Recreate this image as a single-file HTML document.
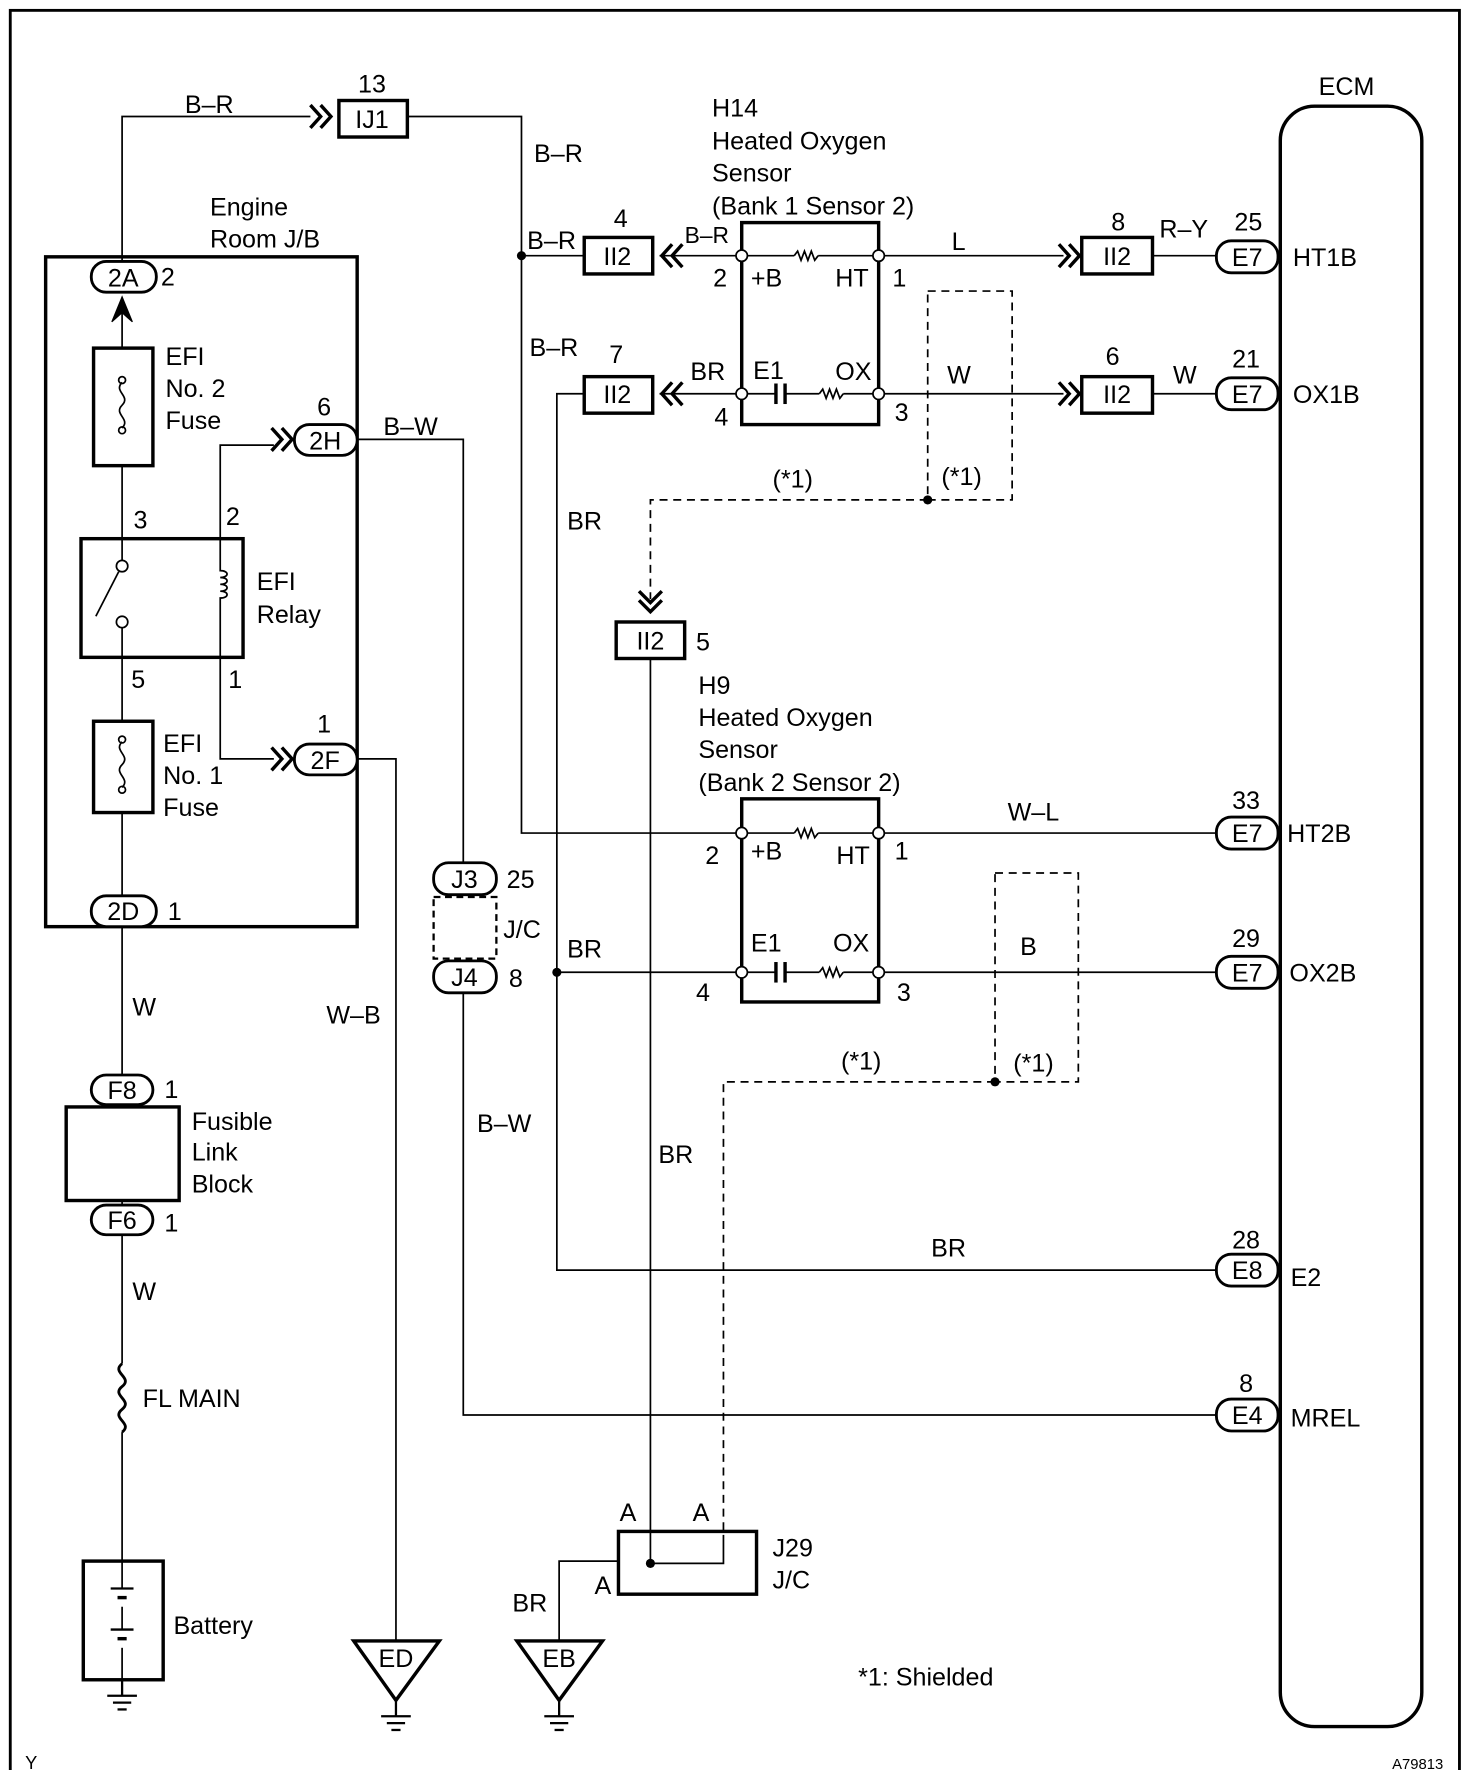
<!DOCTYPE html>
<html><head><meta charset="utf-8"><style>
html,body{margin:0;padding:0;background:#fff}
svg{display:block}
text{font-family:"Liberation Sans",sans-serif;font-size:22px;fill:#000}
</style></head><body>
<svg width="1472" height="1770" viewBox="0 0 1290 1551" xmlns="http://www.w3.org/2000/svg">
<defs>
<g id="gnd"><line x1="0" y1="0" x2="0" y2="14" stroke="#000" stroke-width="2"/><line x1="-13" y1="14" x2="13" y2="14" stroke="#000" stroke-width="2"/><line x1="-8" y1="20" x2="8" y2="20" stroke="#000" stroke-width="2"/><line x1="-4" y1="26" x2="4" y2="26" stroke="#000" stroke-width="2"/></g>
<g id="rarr"><polyline points="0,-10 9,0 0,10" fill="none" stroke="#000" stroke-width="3"/><polyline points="9,-10 18,0 9,10" fill="none" stroke="#000" stroke-width="3"/></g>
<g id="larr"><polyline points="0,-10 -9,0 0,10" fill="none" stroke="#000" stroke-width="3"/><polyline points="-9,-10 -18,0 -9,10" fill="none" stroke="#000" stroke-width="3"/></g>
<g id="res"><polyline points="0,0 3,-4 6,4 9,-4 12,4 15,-4 18,4 21,0" fill="none" stroke="#000" stroke-width="1.5"/></g>
</defs>
<rect x="9" y="9" width="1270" height="1548" fill="none" stroke="#000" stroke-width="2.5"/>
<g stroke="#000" stroke-width="1.5" fill="none">
<polyline points="107,228 107,102 272,102"/>
<polyline points="357,102 457,102 457,730 650,730"/>
<line x1="457" y1="224" x2="512" y2="224"/>
<line x1="578" y1="224" x2="650" y2="224"/>
<line x1="770" y1="224" x2="932" y2="224"/>
<line x1="1010" y1="224" x2="1066" y2="224"/>
<line x1="578" y1="345" x2="650" y2="345"/>
<line x1="770" y1="345" x2="932" y2="345"/>
<line x1="1010" y1="345" x2="1066" y2="345"/>
<polyline points="512,345 488,345 488,1113 1066,1113"/>
<line x1="770" y1="730" x2="1066" y2="730"/>
<line x1="488" y1="852" x2="650" y2="852"/>
<line x1="770" y1="852" x2="1066" y2="852"/>
<line x1="570" y1="577" x2="570" y2="1370"/>
<polyline points="634,1345 634,1370 570,1370"/>
<polyline points="542,1368 490,1368 490,1438"/>
<polyline points="313,385 406,385 406,756"/>
<polyline points="406,870 406,1240 1066,1240"/>
<polyline points="313,665 347,665 347,1438"/>
<line x1="107" y1="270" x2="107" y2="305"/>
<line x1="107" y1="408" x2="107" y2="472"/>
<line x1="107" y1="576" x2="107" y2="632"/>
<line x1="107" y1="712" x2="107" y2="790"/>
<polyline points="193,472 193,390 240,390"/>
<polyline points="193,576 193,665 240,665"/>
<line x1="107" y1="812" x2="107" y2="942"/>
<line x1="107" y1="1082" x2="107" y2="1195"/>
<line x1="107" y1="1255" x2="107" y2="1368"/>
<line x1="107" y1="968" x2="107" y2="1056"/>
<g stroke-dasharray="7,5">
<rect x="813" y="255" width="74" height="183"/>
<polyline points="813,438 570,438 570,525"/>
<rect x="872" y="765" width="73" height="183"/>
<polyline points="872,948 634,948 634,1345"/>
</g>
</g>
<g fill="#000">
<circle cx="457" cy="224" r="4"/><circle cx="813" cy="438" r="4"/><circle cx="872" cy="948" r="4"/><circle cx="488" cy="852" r="4"/><circle cx="570" cy="1370" r="4"/>
</g>
<use href="#rarr" x="272" y="102"/>
<use href="#larr" x="598" y="224"/>
<use href="#larr" x="598" y="345"/>
<use href="#rarr" x="928" y="224"/>
<use href="#rarr" x="928" y="345"/>
<use href="#rarr" x="238" y="385"/>
<use href="#rarr" x="238" y="665"/>
<polyline points="560,518 570,528 580,518" fill="none" stroke="#000" stroke-width="3"/>
<polyline points="560,526 570,536 580,526" fill="none" stroke="#000" stroke-width="3"/>
<path d="M98,282 L107,260 L116,282 L107,274Z" fill="#000" stroke="#000" stroke-width="1"/>
<path d="M98,786 L107,808 L116,786 L107,794Z" fill="#000" stroke="#000" stroke-width="1"/>
<g fill="#fff" stroke="#000" stroke-width="3">
<rect x="297" y="88" width="60" height="32"/>
<rect x="512" y="208" width="60" height="32"/>
<rect x="512" y="330" width="60" height="32"/>
<rect x="948" y="208" width="62" height="32"/>
<rect x="948" y="330" width="62" height="32"/>
<rect x="540" y="545" width="60" height="32"/>
<rect x="650" y="195" width="120" height="177" fill="none"/>
<rect x="650" y="700" width="120" height="178" fill="none"/>
<rect x="40" y="225" width="273" height="587" fill="none"/>
<rect x="82" y="305" width="52" height="103"/>
<rect x="82" y="632" width="52" height="80"/>
<rect x="71" y="472" width="142" height="104"/>
<rect x="58" y="970" width="99" height="82"/>
<rect x="73" y="1368" width="70" height="104"/>
<rect x="542" y="1342" width="121" height="55" fill="none"/>
<rect x="1122" y="93" width="124" height="1420" rx="30" fill="none"/>
<rect x="380" y="786" width="55" height="54" stroke-dasharray="6,4" stroke-width="2" fill="none"/>
</g>
<g fill="#fff" stroke="#000" stroke-width="2.5">
<rect x="80" y="229" width="57" height="27" rx="13"/>
<rect x="80" y="785" width="57" height="27" rx="13"/>
<rect x="258" y="372" width="55" height="27" rx="13"/>
<rect x="258" y="652" width="55" height="27" rx="13"/>
<rect x="80" y="942" width="54" height="26" rx="13"/>
<rect x="80" y="1056" width="54" height="26" rx="13"/>
<rect x="380" y="756" width="55" height="28" rx="13"/>
<rect x="380" y="842" width="55" height="28" rx="13"/>
<rect x="1066" y="211" width="54" height="28" rx="13"/>
<rect x="1066" y="331" width="54" height="28" rx="13"/>
<rect x="1066" y="716" width="54" height="28" rx="13"/>
<rect x="1066" y="838" width="54" height="28" rx="13"/>
<rect x="1066" y="1099" width="54" height="28" rx="13"/>
<rect x="1066" y="1226" width="54" height="28" rx="13"/>
</g>
<g fill="#fff" stroke="#000" stroke-width="1.5">
<line x1="650" y1="224" x2="696" y2="224"/><line x1="717" y1="224" x2="770" y2="224"/>
<line x1="650" y1="345" x2="680" y2="345"/><line x1="688" y1="345" x2="718" y2="345"/><line x1="739" y1="345" x2="770" y2="345"/>
<line x1="650" y1="730" x2="696" y2="730"/><line x1="717" y1="730" x2="770" y2="730"/>
<line x1="650" y1="852" x2="680" y2="852"/><line x1="688" y1="852" x2="718" y2="852"/><line x1="739" y1="852" x2="770" y2="852"/>
</g>
<use href="#res" x="696" y="224"/><use href="#res" x="718" y="345"/><use href="#res" x="696" y="730"/><use href="#res" x="718" y="852"/>
<g stroke="#000" stroke-width="3"><line x1="680" y1="336" x2="680" y2="354"/><line x1="688" y1="336" x2="688" y2="354"/><line x1="680" y1="843" x2="680" y2="861"/><line x1="688" y1="843" x2="688" y2="861"/></g>
<g fill="#fff" stroke="#000" stroke-width="1.5">
<circle cx="650" cy="224" r="5"/><circle cx="770" cy="224" r="5"/><circle cx="650" cy="345" r="5"/><circle cx="770" cy="345" r="5"/>
<circle cx="650" cy="730" r="5"/><circle cx="770" cy="730" r="5"/><circle cx="650" cy="852" r="5"/><circle cx="770" cy="852" r="5"/>
<circle cx="107" cy="496" r="5"/><circle cx="107" cy="545" r="5"/>
</g>
<g fill="none" stroke="#000" stroke-width="1.5">
<line x1="107" y1="472" x2="107" y2="491"/><line x1="107" y1="550" x2="107" y2="576"/>
<line x1="84" y1="540" x2="104" y2="501"/>
<path d="M193,472 V500 c8,0 8,6 0,6 c8,0 8,6 0,6 c8,0 8,6 0,6 c8,0 8,6 0,6 V576"/>
<path d="M107,335 c-8,8 8,12 0,20 c-8,8 8,12 0,20"/>
<circle cx="107" cy="333" r="3"/><circle cx="107" cy="377" r="3"/>
<path d="M107,650 c-8,8 8,12 0,20 c-8,8 8,12 0,20"/>
<circle cx="107" cy="648" r="3"/><circle cx="107" cy="692" r="3"/>
<path d="M107,1195 c-10,8 10,12 0,20 c-10,8 10,12 0,20 c-10,8 10,12 0,20" stroke-width="2.5"/>
<line x1="107" y1="1368" x2="107" y2="1392"/>
<line x1="107" y1="1408" x2="107" y2="1428"/>
<line x1="107" y1="1444" x2="107" y2="1472"/>
</g>
<g stroke="#000" stroke-width="2"><line x1="97" y1="1392" x2="117" y2="1392"/><line x1="103" y1="1400" x2="111" y2="1400" stroke-width="3"/><line x1="97" y1="1428" x2="117" y2="1428"/><line x1="103" y1="1436" x2="111" y2="1436" stroke-width="3"/></g>
<path d="M310,1438 H385 L347,1490Z" fill="#fff" stroke="#000" stroke-width="3"/>
<path d="M453,1438 H528 L490,1490Z" fill="#fff" stroke="#000" stroke-width="3"/>
<use href="#gnd" x="347" y="1490"/><use href="#gnd" x="490" y="1490"/><use href="#gnd" x="107" y="1472"/>
<g text-anchor="middle">
<text x="326" y="112">IJ1</text><text x="541" y="232">II2</text><text x="541" y="353">II2</text>
<text x="979" y="232">II2</text><text x="979" y="353">II2</text><text x="570" y="569">II2</text>
<text x="108" y="251">2A</text><text x="108" y="806">2D</text><text x="285" y="394">2H</text><text x="285" y="674">2F</text>
<text x="107" y="963">F8</text><text x="107" y="1077">F6</text><text x="407" y="778">J3</text><text x="407" y="864">J4</text>
<text x="1093" y="233">E7</text><text x="1093" y="353">E7</text><text x="1093" y="738">E7</text><text x="1093" y="860">E7</text><text x="1093" y="1121">E8</text><text x="1093" y="1248">E4</text>
<text x="347" y="1461">ED</text><text x="490" y="1461">EB</text>
<text x="1180" y="83">ECM</text>
<text x="326" y="81">13</text><text x="544" y="199">4</text><text x="540" y="318">7</text><text x="980" y="202">8</text><text x="975" y="320">6</text>
<text x="1094" y="202">25</text><text x="1092" y="322">21</text><text x="1092" y="709">33</text><text x="1092" y="830">29</text><text x="1092" y="1094">28</text><text x="1092" y="1220">8</text>
<text x="284" y="364">6</text><text x="284" y="642">1</text>
</g>
<text x="162" y="99">B–R</text><text x="468" y="142">B–R</text><text x="462" y="218">B–R</text><text x="600" y="213" style="font-size:20px">B–R</text>
<text x="464" y="312">B–R</text><text x="605" y="333">BR</text><text x="497" y="464">BR</text>
<text x="834" y="219">L</text><text x="1016" y="208">R–Y</text><text x="1133" y="233">HT1B</text>
<text x="830" y="336">W</text><text x="1028" y="336">W</text><text x="1133" y="353">OX1B</text>
<text x="624" y="102">H14</text><text x="624" y="131">Heated Oxygen</text><text x="624" y="159">Sensor</text><text x="624" y="188">(Bank 1 Sensor 2)</text>
<text x="625" y="251">2</text><text x="658" y="251">+B</text><text x="732" y="251">HT</text><text x="782" y="251">1</text>
<text x="660" y="332">E1</text><text x="732" y="333">OX</text><text x="626" y="373">4</text><text x="784" y="369">3</text>
<text x="677" y="427">(*1)</text><text x="825" y="425">(*1)</text><text x="610" y="570">5</text>
<text x="612" y="608">H9</text><text x="612" y="636">Heated Oxygen</text><text x="612" y="664">Sensor</text><text x="612" y="693">(Bank 2 Sensor 2)</text>
<text x="883" y="719">W–L</text><text x="1128" y="738">HT2B</text>
<text x="618" y="757">2</text><text x="658" y="753">+B</text><text x="733" y="757">HT</text><text x="784" y="753">1</text>
<text x="658" y="834">E1</text><text x="730" y="834">OX</text><text x="497" y="839">BR</text><text x="894" y="837">B</text><text x="1130" y="860">OX2B</text>
<text x="610" y="877">4</text><text x="786" y="877">3</text>
<text x="737" y="937">(*1)</text><text x="888" y="939">(*1)</text>
<text x="577" y="1019">BR</text><text x="816" y="1101">BR</text><text x="1131" y="1127">E2</text><text x="1131" y="1250">MREL</text>
<text x="543" y="1333">A</text><text x="607" y="1333">A</text><text x="521" y="1397">A</text><text x="677" y="1364">J29</text><text x="677" y="1392">J/C</text><text x="449" y="1412">BR</text>
<text x="752" y="1477">*1: Shielded</text>
<text x="184" y="189">Engine</text><text x="184" y="217">Room J/B</text><text x="141" y="250">2</text>
<text x="145" y="320">EFI</text><text x="145" y="348">No. 2</text><text x="145" y="376">Fuse</text>
<text x="117" y="463">3</text><text x="198" y="460">2</text><text x="225" y="517">EFI</text><text x="225" y="546">Relay</text>
<text x="115" y="603">5</text><text x="200" y="603">1</text>
<text x="143" y="659">EFI</text><text x="143" y="687">No. 1</text><text x="143" y="715">Fuse</text><text x="147" y="806">1</text>
<text x="336" y="381">B–W</text><text x="444" y="778">25</text><text x="441" y="822">J/C</text><text x="446" y="865">8</text>
<text x="116" y="890">W</text><text x="286" y="897">W–B</text><text x="418" y="992">B–W</text>
<text x="144" y="962">1</text><text x="168" y="990">Fusible</text><text x="168" y="1017">Link</text><text x="168" y="1045">Block</text><text x="144" y="1079">1</text>
<text x="116" y="1139">W</text><text x="125" y="1233">FL MAIN</text><text x="152" y="1432">Battery</text>
<text x="22" y="1550" style="font-size:16px">Y</text><text x="1220" y="1550" style="font-size:13px">A79813</text>
</svg>
</body></html>
